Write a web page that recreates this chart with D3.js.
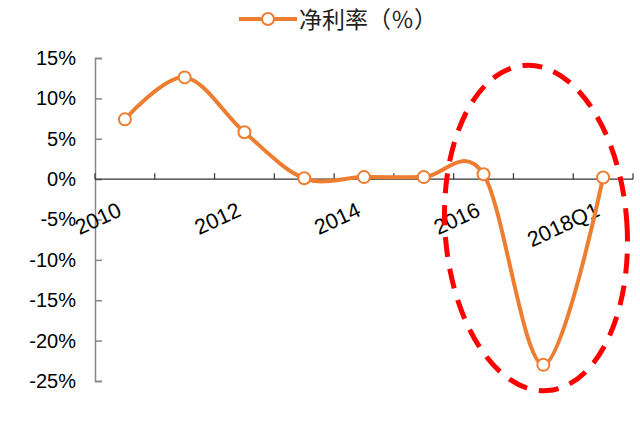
<!DOCTYPE html>
<html>
<head>
<meta charset="utf-8">
<script src="https://d3js.org/d3.v7.min.js"></script>
<style>
  body { margin: 0; background: #fff; }
  svg { display: block; }
</style>
</head>
<body>
<div id="chart"></div>
<script>
var width = 640;
var height = 430;

// data
var categories = ["2010", "2011", "2012", "2013", "2014", "2015", "2016", "2017", "2018Q1"];
var netMargin = [7.4, 12.6, 5.8, 0.1, 0.25, 0.25, 0.6, -23.0, 0.2];
var xLabels = ["2010", "2012", "2014", "2016", "2018Q1"];
var yTicks = [15, 10, 5, 0, -5, -10, -15, -20, -25];
var seriesName = "净利率（％）";

var svg = d3.select("#chart")
  .append("svg")
    .attr("width", width)
    .attr("height", height);

var x = d3.scaleBand()
  .domain(categories)
  .range([95, 633]);

var y = d3.scaleLinear()
  .domain([-25, 15])
  .range([381, 58]);

// y axis, ticks pointing inward
var yAxis = svg.append("g")
  .attr("transform", "translate(95,0)")
  .call(d3.axisLeft(y)
    .tickValues(yTicks)
    .tickSize(-7)
    .tickPadding(19)
    .tickFormat(function(d) { return d + "%"; }));
yAxis.select(".domain").attr("stroke", "#868686").attr("stroke-width", 1.5);
yAxis.selectAll(".tick line").attr("stroke", "#868686").attr("stroke-width", 1.5);
yAxis.selectAll(".tick text")
  .attr("fill", "#000")
  .style("font-family", "'Liberation Sans', Arial, sans-serif")
  .style("font-size", "20px");

// x axis at 0%
var y0 = y(0);
svg.append("line")
  .attr("x1", x.range()[0]).attr("x2", x.range()[1])
  .attr("y1", y0).attr("y2", y0)
  .attr("stroke", "#333").attr("stroke-width", 1.2);

var tickPos = categories.map(function(d) { return x(d); }).concat([x.range()[1]]);
svg.selectAll("xtick")
  .data(tickPos)
  .enter()
  .append("line")
    .attr("x1", function(d) { return d; })
    .attr("x2", function(d) { return d; })
    .attr("y1", y0)
    .attr("y2", y0 - 6)
    .attr("stroke", "#333")
    .attr("stroke-width", 1.2);

svg.selectAll("xlabel")
  .data(xLabels)
  .enter()
  .append("text")
    .attr("transform", function(d) {
      return "translate(" + (x(d) + x.bandwidth() / 2 - 2) + "," + (y0 + 36) + ") rotate(-25)";
    })
    .attr("text-anchor", "end")
    .style("font-family", "'Liberation Sans', Arial, sans-serif")
    .style("font-size", "21.5px")
    .attr("fill", "#000")
    .text(function(d) { return d; });

// red dashed ellipse highlight
svg.append("ellipse")
  .attr("transform", "translate(536,228) rotate(-4)")
  .attr("rx", 91)
  .attr("ry", 163)
  .attr("fill", "none")
  .attr("stroke", "#ff0000")
  .attr("stroke-width", 5)
  .attr("stroke-dasharray", "20,12");

// the line
var orange = "#ed7d31";
var line = d3.line()
  .x(function(d, i) { return x(categories[i]) + x.bandwidth() / 2; })
  .y(function(d) { return y(d); })
  .curve(d3.curveCardinal.tension(0));

svg.append("path")
  .datum(netMargin)
  .attr("d", line)
  .attr("fill", "none")
  .attr("stroke", orange)
  .attr("stroke-width", 4);

svg.selectAll("dot")
  .data(netMargin)
  .enter()
  .append("circle")
    .attr("cx", function(d, i) { return x(categories[i]) + x.bandwidth() / 2; })
    .attr("cy", function(d) { return y(d); })
    .attr("r", 6)
    .attr("fill", "#fff")
    .attr("stroke", orange)
    .attr("stroke-width", 2);

// legend
svg.append("line")
  .attr("x1", 239).attr("x2", 297)
  .attr("y1", 19).attr("y2", 19)
  .attr("stroke", orange).attr("stroke-width", 4);
svg.append("circle")
  .attr("cx", 268).attr("cy", 19).attr("r", 6)
  .attr("fill", "#fff").attr("stroke", orange).attr("stroke-width", 2);
svg.append("text")
  .attr("x", 299)
  .attr("y", 28)
  .style("font-family", "'Noto Sans CJK SC', sans-serif")
  .style("font-size", "23px")
  .attr("fill", "#222")
  .text(seriesName);
</script>
</body>
</html>
